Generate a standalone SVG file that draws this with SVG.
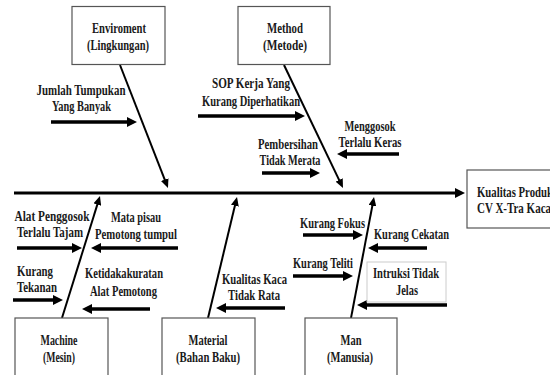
<svg xmlns="http://www.w3.org/2000/svg" width="550" height="375" viewBox="0 0 550 375">
<style>
text{font-family:"Liberation Serif","Times New Roman",serif;font-weight:bold;font-size:15px;fill:#1a1a1a}
.c{text-anchor:middle}
.box{fill:#fff;stroke:#555;stroke-width:1.2}
.lbox{fill:#fff;stroke:#ccc;stroke-width:1}
.br{stroke:#000;stroke-width:2;fill:none}
.ar{stroke:#000;stroke-width:3.5;fill:none}
.sp{stroke:#000;stroke-width:3;fill:none}
</style>
<defs>
<marker id="h" markerUnits="userSpaceOnUse" markerWidth="10" markerHeight="10" refX="3" refY="5" orient="auto"><path d="M0,0 L10,5 L0,10 z" fill="#000"/></marker>
<marker id="hs" markerUnits="userSpaceOnUse" markerWidth="9" markerHeight="8" refX="3" refY="4" orient="auto"><path d="M0,0 L9,4 L0,8 z" fill="#000"/></marker>
</defs>
<rect width="550" height="375" fill="#fff"/>

<g id="connectors">
<line class="sp" x1="14" y1="193" x2="458" y2="193" marker-end="url(#h)"/>
<line class="br" x1="120" y1="65" x2="165.8" y2="182.4" marker-end="url(#hs)"/>
<line class="br" x1="284" y1="65" x2="340.4" y2="182.6" marker-end="url(#hs)"/>
<line class="br" x1="62" y1="318" x2="98.2" y2="201.7" marker-end="url(#hs)"/>
<line class="br" x1="208" y1="318" x2="235.6" y2="202.8" marker-end="url(#hs)"/>
<line class="br" x1="351" y1="318" x2="372.9" y2="202.9" marker-end="url(#hs)"/>
<line class="ar" x1="51" y1="122" x2="130" y2="122" marker-end="url(#h)"/>
<line class="ar" x1="198" y1="116" x2="298" y2="116" marker-end="url(#h)"/>
<line class="ar" x1="399" y1="154" x2="344" y2="154" marker-end="url(#h)"/>
<line class="ar" x1="262" y1="173" x2="313" y2="173" marker-end="url(#h)"/>
<line class="ar" x1="17" y1="248" x2="75" y2="248" marker-end="url(#h)"/>
<line class="ar" x1="178" y1="248" x2="98" y2="248" marker-end="url(#h)"/>
<line class="ar" x1="13" y1="300" x2="56" y2="300" marker-end="url(#h)"/>
<line class="ar" x1="150" y1="309" x2="89" y2="309" marker-end="url(#h)"/>
<line class="ar" x1="285" y1="308" x2="223" y2="308" marker-end="url(#h)"/>
<line class="ar" x1="303" y1="235" x2="356" y2="235" marker-end="url(#h)"/>
<line class="ar" x1="427" y1="248" x2="375" y2="248" marker-end="url(#h)"/>
<line class="ar" x1="293" y1="276" x2="346" y2="276" marker-end="url(#h)"/>
<line class="ar" x1="447" y1="305" x2="364" y2="305" marker-end="url(#h)"/>
</g>

<g id="enviroment">
<rect class="box" x="72" y="6.5" width="93" height="58"/>
<text class="c" x="119" y="33" textLength="54" lengthAdjust="spacingAndGlyphs">Enviroment</text>
<text class="c" x="118" y="50" textLength="62" lengthAdjust="spacingAndGlyphs">(Lingkungan)</text>
</g>
<g id="method">
<rect class="box" x="238" y="6.5" width="92" height="58"/>
<text class="c" x="285" y="33" textLength="36" lengthAdjust="spacingAndGlyphs">Method</text>
<text class="c" x="285" y="50" textLength="44" lengthAdjust="spacingAndGlyphs">(Metode)</text>
</g>
<g id="kualitas">
<rect class="box" x="467" y="170" width="100" height="58"/>
<text x="477" y="197" textLength="76" lengthAdjust="spacingAndGlyphs">Kualitas Produk</text>
<text x="477" y="213" textLength="74" lengthAdjust="spacingAndGlyphs">CV X-Tra Kaca</text>
</g>
<g id="machine">
<rect class="box" x="15" y="318" width="93" height="70"/>
<text class="c" x="59" y="345" textLength="37" lengthAdjust="spacingAndGlyphs">Machine</text>
<text class="c" x="59" y="362" textLength="32" lengthAdjust="spacingAndGlyphs">(Mesin)</text>
</g>
<g id="material">
<rect class="box" x="162" y="318" width="93" height="70"/>
<text class="c" x="208" y="345" textLength="39" lengthAdjust="spacingAndGlyphs">Material</text>
<text class="c" x="208" y="362" textLength="64" lengthAdjust="spacingAndGlyphs">(Bahan Baku)</text>
</g>
<g id="man">
<rect class="box" x="305" y="318" width="92" height="70"/>
<text class="c" x="351" y="345" textLength="21" lengthAdjust="spacingAndGlyphs">Man</text>
<text class="c" x="350" y="362" textLength="46" lengthAdjust="spacingAndGlyphs">(Manusia)</text>
</g>

<g id="cause-jumlah">
<text class="c" x="81" y="95" textLength="89" lengthAdjust="spacingAndGlyphs">Jumlah Tumpukan</text>
<text class="c" x="81.5" y="111" textLength="59" lengthAdjust="spacingAndGlyphs">Yang Banyak</text>
</g>
<g id="cause-sop">
<text class="c" x="251" y="88" textLength="78" lengthAdjust="spacingAndGlyphs">SOP Kerja Yang</text>
<text class="c" x="251" y="106" textLength="98" lengthAdjust="spacingAndGlyphs">Kurang Diperhatikan</text>
</g>
<g id="cause-menggosok">
<text class="c" x="370" y="131" textLength="51" lengthAdjust="spacingAndGlyphs">Menggosok</text>
<text class="c" x="370" y="147" textLength="63" lengthAdjust="spacingAndGlyphs">Terlalu Keras</text>
</g>
<g id="cause-pembersihan">
<text class="c" x="288" y="149" textLength="60" lengthAdjust="spacingAndGlyphs">Pembersihan</text>
<text class="c" x="290" y="165" textLength="61" lengthAdjust="spacingAndGlyphs">Tidak Merata</text>
</g>
<g id="cause-alat-penggosok">
<text class="c" x="52" y="221" textLength="75" lengthAdjust="spacingAndGlyphs">Alat Penggosok</text>
<text class="c" x="50" y="237" textLength="66" lengthAdjust="spacingAndGlyphs">Terlalu Tajam</text>
</g>
<g id="cause-mata-pisau">
<text class="c" x="136" y="222" textLength="50" lengthAdjust="spacingAndGlyphs">Mata pisau</text>
<text class="c" x="136" y="239" textLength="82" lengthAdjust="spacingAndGlyphs">Pemotong  tumpul</text>
</g>
<g id="cause-kurang-tekanan">
<text x="17" y="276" textLength="36" lengthAdjust="spacingAndGlyphs">Kurang</text>
<text x="17" y="292" textLength="40" lengthAdjust="spacingAndGlyphs">Tekanan</text>
</g>
<g id="cause-ketidakakuratan">
<text class="c" x="124" y="278" textLength="78" lengthAdjust="spacingAndGlyphs">Ketidakakuratan</text>
<text class="c" x="123.5" y="296" textLength="67" lengthAdjust="spacingAndGlyphs">Alat Pemotong</text>
</g>
<g id="cause-kualitas-kaca">
<text class="c" x="254.5" y="284" textLength="65" lengthAdjust="spacingAndGlyphs">Kualitas Kaca</text>
<text class="c" x="254" y="300" textLength="52" lengthAdjust="spacingAndGlyphs">Tidak Rata</text>
</g>
<g id="cause-kurang-fokus">
<text class="c" x="332.5" y="228" textLength="65" lengthAdjust="spacingAndGlyphs">Kurang Fokus</text>
</g>
<g id="cause-kurang-cekatan">
<text class="c" x="411.5" y="239" textLength="75" lengthAdjust="spacingAndGlyphs">Kurang Cekatan</text>
</g>
<g id="cause-kurang-teliti">
<text class="c" x="323" y="268" textLength="60" lengthAdjust="spacingAndGlyphs">Kurang Teliti</text>
</g>
<g id="cause-intruksi">
<rect class="lbox" x="367" y="262" width="79" height="40"/>
<text class="c" x="406" y="278" textLength="66" lengthAdjust="spacingAndGlyphs">Intruksi Tidak</text>
<text class="c" x="407" y="295" textLength="22" lengthAdjust="spacingAndGlyphs">Jelas</text>
</g>
</svg>
